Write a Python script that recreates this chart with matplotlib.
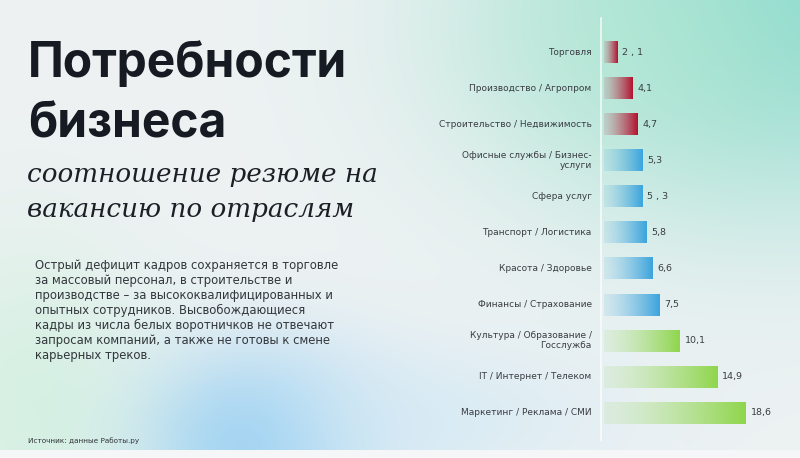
import numpy as np
import matplotlib.pyplot as plt
from matplotlib.colors import to_rgb

categories = ["Торговля", "Производство / Агропром", "Строительство / Недвижимость",
              "Офисные службы / Бизнес-\nуслуги", "Сфера услуг", "Транспорт / Логистика",
              "Красота / Здоровье", "Финансы / Страхование",
              "Культура / Образование /\nГосслужба", "IT / Интернет / Телеком",
              "Маркетинг / Реклама / СМИ"]
values = [2.1, 4.1, 4.7, 5.3, 5.3, 5.8, 6.6, 7.5, 10.1, 14.9, 18.6]
value_labels = ["2 , 1", "4,1", "4,7", "5,3", "5 , 3", "5,8", "6,6", "7,5", "10,1", "14,9", "18,6"]
groups = ["red"] * 3 + ["blue"] * 5 + ["green"] * 3
group_colors = {"red": "#b3112e", "blue": "#3ba4dd", "green": "#8fd64c"}

title_lines = ["Потребности", "бизнеса"]
subtitle_lines = ["соотношение резюме на", "вакансию по отраслям"]
body = ("Острый дефицит кадров сохраняется в торговле\n"
        "за массовый персонал, в строительстве и\n"
        "производстве – за высококвалифицированных и\n"
        "опытных сотрудников. Высвобождающиеся\n"
        "кадры из числа белых воротничков не отвечают\n"
        "запросам компаний, а также не готовы к смене\n"
        "карьерных треков.")
source = "Источник: данные Работы.ру"

W, H = 800, 458
fig = plt.figure(figsize=(8, 4.58), dpi=100)

# background: soft gradient blobs
bg = fig.add_axes([0, 0, 1, 1])
yy, xx = np.mgrid[0:H, 0:W]
img = np.ones((H, W, 3)) * np.array(to_rgb("#eef2f3"))
def blob(cx, cy, sx, sy, col, strength):
    global img
    w = strength * np.exp(-(((xx - cx) / sx) ** 2 + ((yy - cy) / sy) ** 2))
    img = img * (1 - w[..., None]) + np.array(to_rgb(col)) * w[..., None]
blob(800, 0, 260, 200, "#86d8cf", 0.95)
blob(650, 40, 200, 150, "#b2e8cf", 0.6)
blob(250, 440, 120, 90, "#88c8f2", 0.85)
blob(30, 400, 120, 160, "#cdf0dc", 0.7)
blob(420, 420, 200, 80, "#cfe8f5", 0.6)
img[450:, :, :] = np.array(to_rgb("#f4f6f7"))
bg.imshow(img, extent=[0, W, H, 0], aspect="auto")
bg.set_xlim(0, W)
bg.set_ylim(H, 0)
bg.axis("off")

# texts
for line, yb in zip(title_lines, [77, 138]):
    fig.text(28 / W, 1 - yb / H, line, fontsize=34.5, fontweight="bold", family="Inter",
             color="#161a22", va="baseline", ha="left")
for line, yb in zip(subtitle_lines, [182, 217]):
    fig.text(27 / W, 1 - yb / H, line, fontsize=18.9, style="italic", family="DejaVu Serif",
             color="#1c1f26", va="baseline", ha="left")
fig.text(35 / W, 1 - 259 / H, body, fontsize=8.4, family="DejaVu Sans",
         color="#33373c", va="top", ha="left", linespacing=1.2)
fig.text(28 / W, 1 - 441 / H, source, fontsize=5.2, family="DejaVu Sans",
         color="#2f3338", va="center", ha="left")

# chart
ax = fig.add_axes([601 / W, 1 - 431 / H, 195 / W, 397 / H])
ax.patch.set_alpha(0)
n = len(values)
bar_h = 0.6
for i, (v, g) in enumerate(zip(values, groups)):
    c = np.array(to_rgb(group_colors[g]))
    grad = np.zeros((1, 100, 4))
    t = np.linspace(0, 1, 100)
    grad[0, :, :3] = c
    grad[0, :, 3] = 0.12 + 0.88 * t ** 1.4
    ax.imshow(grad, extent=[0.4, v, i + bar_h / 2, i - bar_h / 2], aspect="auto",
              interpolation="bilinear", zorder=2)
    ax.text(v + 0.6, i, value_labels[i], fontsize=6.8, color="#3a3d42",
            va="center", ha="left")
    ax.text(-1.2, i, categories[i], fontsize=6.5, color="#3a3d42",
            va="center", ha="right", linespacing=1.1)
ax.set_xlim(0, 25)
ax.set_ylim(n - 0.5, -0.5)
ax.axvline(0, ymin=-0.023, ymax=1.04, color="white", lw=1.2, alpha=0.8, zorder=1,
           clip_on=False)
ax.axis("off")

fig.savefig("out.png", dpi=100)
